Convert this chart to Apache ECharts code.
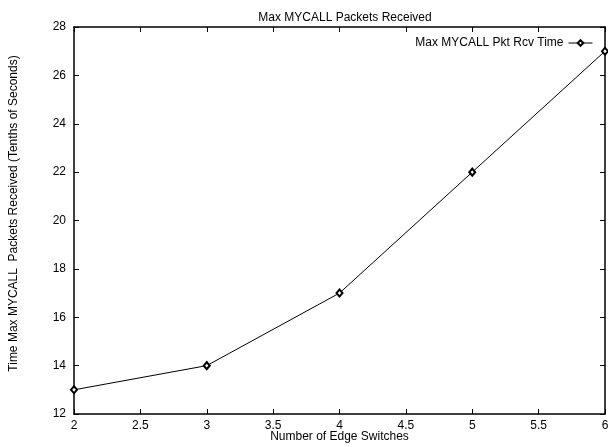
<!DOCTYPE html>
<html><head><meta charset="utf-8">
<script src="https://cdn.jsdelivr.net/npm/echarts@6/dist/echarts.min.js"></script>
<style>html,body{margin:0;padding:0;background:#fff}#c{width:608px;height:447px}</style>
</head><body><div id="c"></div>
<script>
const xValues = [2, 3, 4, 5, 6];
const yValues = [13, 14, 17, 22, 27];
const seriesName = 'Max MYCALL Pkt Rcv Time';
const titleText = 'Max MYCALL Packets Received';
const xTitle = 'Number of Edge Switches';
const yTitle = 'Time Max MYCALL  Packets Received (Tenths of Seconds)';

const font = 'Liberation Sans, Arial, sans-serif';
const chart = echarts.init(document.getElementById('c'));
const axisCommon = {
  axisLine: {show: true, onZero: false, lineStyle: {color: '#000', width: 1.5}},
  axisTick: {show: true, inside: true, length: 5, lineStyle: {color: '#000', width: 1}},
  splitLine: {show: false}
};
chart.setOption({
  animation: false,
  title: {text: titleText, left: 340, textAlign: 'center', top: 7, textStyle: {fontFamily: font, fontSize: 12, fontWeight: 'normal', color: '#000'}},
  legend: {
    data: [seriesName], right: 15, top: 37, padding: 0, align: 'right', itemWidth: 24, itemHeight: 7, itemGap: 8,
    lineStyle: {width: 1}, itemStyle: {borderWidth: 1},
    textStyle: {fontFamily: font, fontSize: 12, color: '#000'}
  },
  grid: {left: 74, right: 3, top: 27, bottom: 33, containLabel: false, outerBoundsMode: 'none'},
  xAxis: [
    Object.assign({type: 'value', min: 2, max: 6, interval: 0.5, position: 'bottom',
      name: xTitle, nameLocation: 'middle', nameGap: 17, nameMoveOverlap: false,
      nameTextStyle: {fontFamily: font, fontSize: 12, color: '#000'},
      axisLabel: {fontFamily: font, fontSize: 12, color: '#000', margin: 6}}, axisCommon),
    Object.assign({type: 'value', min: 2, max: 6, interval: 0.5, position: 'top', axisLabel: {show: false}}, axisCommon)
  ],
  yAxis: [
    Object.assign({type: 'value', min: 12, max: 28, interval: 2, position: 'left',
      name: yTitle, nameLocation: 'middle', nameGap: 54, nameMoveOverlap: false,
      nameTextStyle: {fontFamily: font, fontSize: 12, color: '#000', padding: [0, 0, 0, 14]},
      axisLabel: {fontFamily: font, fontSize: 12, color: '#000', margin: 8}}, axisCommon),
    Object.assign({type: 'value', min: 12, max: 28, interval: 2, position: 'right', axisLabel: {show: false}}, axisCommon)
  ],
  series: [{
    name: seriesName, type: 'line', xAxisIndex: 0, yAxisIndex: 0,
    data: xValues.map((x, i) => [x, yValues[i]]),
    symbol: 'emptyDiamond', symbolSize: [6, 7], showAllSymbol: true,
    lineStyle: {color: '#000', width: 1},
    itemStyle: {color: '#000', borderColor: '#000', borderWidth: 0.8}
  }]
});
</script></body></html>
